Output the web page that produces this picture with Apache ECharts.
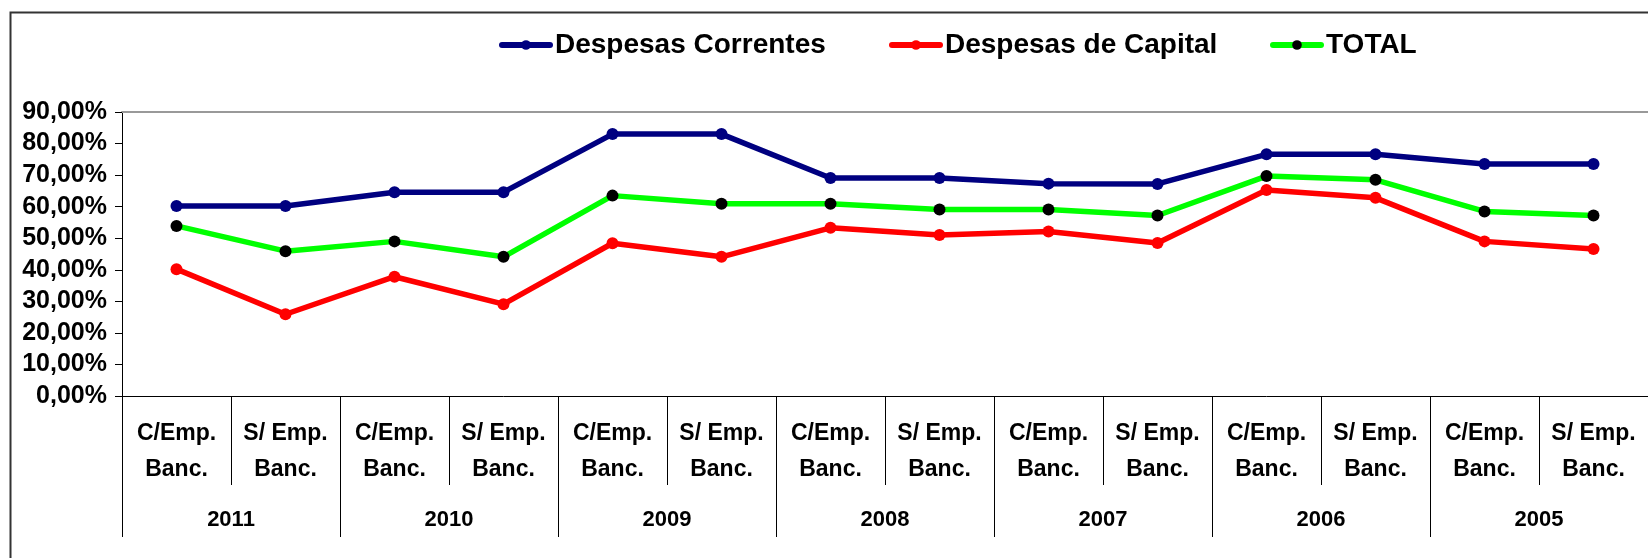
<!DOCTYPE html>
<html>
<head>
<meta charset="utf-8">
<title>Despesas</title>
<script src="https://cdn.jsdelivr.net/npm/echarts@6/dist/echarts.min.js"></script>
<style>
    html, body { margin: 0; padding: 0; background: #fff; }
    .chart { width: 1648px; height: 558px; }
</style>
</head>
<body>
<div class="chart"></div>
<script>
// dados do gráfico
var categorias = ['C/Emp.\nBanc.', 'S/ Emp.\nBanc.', 'C/Emp.\nBanc.', 'S/ Emp.\nBanc.', 'C/Emp.\nBanc.', 'S/ Emp.\nBanc.', 'C/Emp.\nBanc.',
                  'S/ Emp.\nBanc.', 'C/Emp.\nBanc.', 'S/ Emp.\nBanc.', 'C/Emp.\nBanc.', 'S/ Emp.\nBanc.', 'C/Emp.\nBanc.', 'S/ Emp.\nBanc.'];
var anos = ['2011', '2010', '2009', '2008', '2007', '2006', '2005'];
var nomes = ['Despesas Correntes', 'Despesas de Capital', 'TOTAL'];
var correntes = [60.2, 60.2, 64.6, 64.6, 83.0, 83.0, 69.1, 69.1, 67.3, 67.2, 76.6, 76.6, 73.5, 73.5];
var capital = [40.2, 25.9, 37.8, 29.1, 48.4, 44.1, 53.3, 51.0, 52.1, 48.5, 65.3, 62.8, 49.0, 46.6];
var total = [53.9, 45.9, 49.0, 44.1, 63.5, 60.9, 60.9, 59.1, 59.1, 57.2, 69.7, 68.5, 58.5, 57.2];
var yTicks = [0, 10, 20, 30, 40, 50, 60, 70, 80, 90];

(function(){
    var fonte = "'Liberation Sans', Arial, sans-serif"
    var box = document.querySelector('.chart')
    var myChart = echarts.init(box)

    // uma legenda por série, para acertar os espaços
    var legendLeft = [494, 884, 1265]
    var legends = nomes.map(function(nome, i) {
        return {
            data: [nome],
            left: legendLeft[i],
            top: 26,
            itemWidth: 48,
            itemHeight: 12,
            lineStyle: { width: 6, cap: 'round' },
            textStyle: {
                color: '#000',
                fontFamily: fonte,
                fontWeight: 'bold',
                fontSize: 28
            }
        }
    })

    var option = {
        backgroundColor: '#fff',
        animation: false,
        // moldura externa
        graphic: [{
            type: 'rect',
            left: 8,
            top: 10,
            shape: { width: 1700, height: 600 },
            style: { fill: 'none', stroke: '#333', lineWidth: 2 }
        }],
        legend: legends,
        grid: {
            left: 122,
            right: 0,
            top: 112,
            bottom: 162
        },
        xAxis: [
            {
                type: 'category',
                data: categorias,
                position: 'bottom',
                axisLine: {
                    show: true,
                    lineStyle: { color: '#000', width: 1 }
                },
                axisTick: {
                    show: true,
                    interval: 0,
                    length: 89,
                    lineStyle: { color: '#000', width: 1 }
                },
                axisLabel: {
                    interval: 0,
                    margin: 20,
                    lineHeight: 36,
                    color: '#000',
                    fontFamily: fonte,
                    fontWeight: 'bold',
                    fontSize: 23
                }
            },
            {
                type: 'category',
                data: anos,
                position: 'bottom',
                axisLine: { show: false },
                axisTick: {
                    show: true,
                    interval: 0,
                    length: 141,
                    lineStyle: { color: '#000', width: 1 }
                },
                axisLabel: {
                    interval: 0,
                    margin: 109,
                    lineHeight: 30,
                    color: '#000',
                    fontFamily: fonte,
                    fontWeight: 'bold',
                    fontSize: 22
                }
            },
            {
                // linha cinza no topo da área
                type: 'category',
                data: categorias,
                position: 'top',
                axisLine: {
                    show: true,
                    lineStyle: { color: '#999', width: 2 }
                },
                axisTick: { show: false },
                axisLabel: { show: false }
            }
        ],
        yAxis: {
            type: 'value',
            min: yTicks[0],
            max: yTicks[yTicks.length - 1],
            interval: 10,
            axisLine: {
                show: true,
                lineStyle: { color: '#000' }
            },
            axisTick: {
                show: true,
                length: 7,
                lineStyle: { color: '#000' }
            },
            splitLine: { show: false },
            axisLabel: {
                margin: 15,
                color: '#000',
                fontFamily: fonte,
                fontWeight: 'bold',
                fontSize: 25,
                formatter: function(v) {
                    return v.toFixed(2).replace('.', ',') + '%'
                }
            }
        },
        series: [
            {
                name: nomes[0],
                type: 'line',
                data: correntes,
                symbol: 'circle',
                symbolSize: 12,
                lineStyle: { color: '#000080', width: 5.5 },
                itemStyle: { color: '#000080' }
            },
            {
                name: nomes[1],
                type: 'line',
                data: capital,
                symbol: 'circle',
                symbolSize: 12,
                lineStyle: { color: '#ff0000', width: 5.5 },
                itemStyle: { color: '#ff0000' }
            },
            {
                name: nomes[2],
                type: 'line',
                data: total,
                symbol: 'circle',
                symbolSize: 12,
                lineStyle: { color: '#00ff00', width: 5.5 },
                itemStyle: { color: '#000' }
            }
        ]
    };
    myChart.setOption(option)
})();
</script>
</body>
</html>
